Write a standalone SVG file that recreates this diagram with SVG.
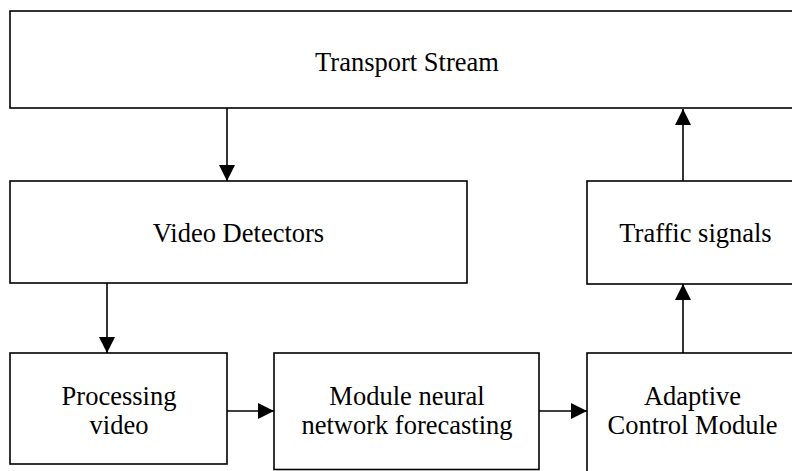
<svg xmlns="http://www.w3.org/2000/svg" width="792" height="471" viewBox="0 0 792 471">
<style>
.box{fill:#fff;stroke:#000;stroke-width:1.6}
.lbl{font-family:"Liberation Serif","Times New Roman",serif;font-size:26.5px;fill:#000;text-anchor:middle}
.con{stroke:#000;stroke-width:1.6;fill:none;marker-end:url(#ah)}
</style>
<defs>
<marker id="ah" markerUnits="userSpaceOnUse" markerWidth="16" markerHeight="16" viewBox="0 0 16 16" refX="16" refY="8" orient="auto">
<path d="M0,0 L16,8 L0,16 Z" fill="#000"/>
</marker>
</defs>
<rect width="792" height="471" fill="#fff"/>
<g id="transport-stream">
<rect class="box" x="10" y="11" width="800" height="97"/>
<text class="lbl" x="407" y="71">Transport Stream</text>
</g>
<g id="video-detectors">
<rect class="box" x="10" y="181" width="457" height="102"/>
<text class="lbl" x="238.5" y="242">Video Detectors</text>
</g>
<g id="traffic-signals">
<rect class="box" x="587" y="181" width="220" height="103"/>
<text class="lbl" x="695.5" y="242">Traffic signals</text>
</g>
<g id="processing-video">
<rect class="box" x="10" y="353" width="217" height="111"/>
<text class="lbl" x="119" y="405">Processing</text>
<text class="lbl" x="119" y="434">video</text>
</g>
<g id="module-nn">
<rect class="box" x="274" y="353" width="265" height="116.5"/>
<text class="lbl" x="407" y="405">Module neural</text>
<text class="lbl" x="407" y="434">network forecasting</text>
</g>
<g id="adaptive-control">
<rect class="box" x="587" y="353" width="220" height="125"/>
<text class="lbl" x="692.5" y="405">Adaptive</text>
<text class="lbl" x="692.5" y="434">Control Module</text>
</g>
<g id="connectors">
<line class="con" x1="227" y1="108" x2="227" y2="181"/>
<line class="con" x1="683" y1="181" x2="683" y2="109"/>
<line class="con" x1="107" y1="283" x2="107" y2="353"/>
<line class="con" x1="227" y1="411" x2="274" y2="411"/>
<line class="con" x1="539" y1="411" x2="587" y2="411"/>
<line class="con" x1="683" y1="353" x2="683" y2="284"/>
</g>
</svg>
